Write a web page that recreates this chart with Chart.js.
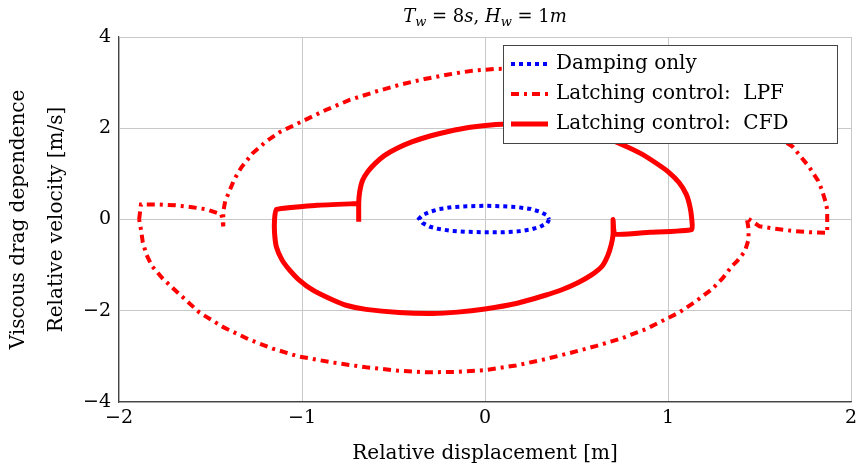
<!DOCTYPE html>
<html>
<head>
<meta charset="utf-8">
<script src="https://cdn.jsdelivr.net/npm/chart.js@4/dist/chart.umd.min.js"></script>
<style>
  html, body { margin: 0; padding: 0; background: #fff; }
  #wrap { width: 857px; height: 470px; }
</style>
</head>
<body>
<div id="wrap"><canvas id="phase_chart"></canvas></div>
<script>
// tick labels
const xTicks = [-2, -1, 0, 1, 2];
const yTicks = [-4, -2, 0, 2, 4];

// Damping only (blue dotted loop)
const dampX = [0.35, 0.34, 0.3, 0.25, 0.18, 0.1, 0.0, -0.1, -0.18, -0.25, -0.3, -0.34, -0.36, -0.34, -0.3, -0.25, -0.18, -0.1, 0.0, 0.1, 0.18, 0.25, 0.3, 0.34, 0.35];
const dampY = [0.0, -0.08, -0.16, -0.22, -0.26, -0.28, -0.28, -0.27, -0.25, -0.21, -0.16, -0.08, 0.02, 0.1, 0.17, 0.23, 0.27, 0.29, 0.3, 0.29, 0.27, 0.23, 0.17, 0.09, 0.0];

// Latching control: LPF (red dash-dot)
const lpfX = [-1.89, -1.88, -1.78, -1.69, -1.6, -1.52, -1.44, -1.43, -1.43, -1.42, -1.4, -1.37, -1.33, -1.27, -1.2, -1.12, -1.0, -0.87, -0.74, -0.6, -0.47, -0.33, -0.2, -0.07, 0.06, 0.25, 0.45, 0.65, 0.85, 1.05, 1.25, 1.42, 1.56, 1.68, 1.77, 1.82, 1.84, 1.86, 1.87, 1.87, 1.78, 1.68, 1.58, 1.5, 1.43, 1.44, 1.44, 1.42, 1.38, 1.35, 1.3, 1.24, 1.15, 1.06, 0.97, 0.88, 0.75, 0.61, 0.47, 0.33, 0.17, 0.0, -0.16, -0.32, -0.48, -0.65, -0.84, -1.02, -1.16, -1.29, -1.43, -1.56, -1.68, -1.76, -1.82, -1.85, -1.87, -1.88, -1.89];
const lpfY = [0.0, 0.33, 0.33, 0.31, 0.27, 0.22, 0.11, -0.15, 0.17, 0.4, 0.59, 0.88, 1.15, 1.45, 1.7, 1.92, 2.15, 2.4, 2.62, 2.8, 2.95, 3.08, 3.18, 3.26, 3.3, 3.31, 3.26, 3.16, 3.0, 2.78, 2.5, 2.2, 1.9, 1.6, 1.16, 0.85, 0.66, 0.4, 0.22, -0.29, -0.28, -0.25, -0.2, -0.15, 0.04, -0.2, -0.44, -0.7, -0.9, -1.02, -1.28, -1.53, -1.8, -2.04, -2.22, -2.4, -2.6, -2.77, -2.92, -3.06, -3.2, -3.3, -3.34, -3.35, -3.31, -3.24, -3.13, -3.0, -2.83, -2.63, -2.36, -2.04, -1.6, -1.3, -1.02, -0.77, -0.5, -0.22, 0.0];

// Latching control: CFD (red solid)
const cfdX = [-0.69, -0.69, -0.685, -0.67, -0.64, -0.6, -0.55, -0.48, -0.4, -0.3, -0.2, -0.08, 0.06, 0.2, 0.35, 0.5, 0.63, 0.75, 0.85, 0.93, 1.0, 1.06, 1.1, 1.12, 1.13, 1.13, 0.9, 0.71, 0.7, 0.7, 0.69, 0.67, 0.64, 0.58, 0.51, 0.42, 0.33, 0.17, 0.0, -0.15, -0.29, -0.47, -0.65, -0.76, -0.84, -0.94, -1.02, -1.07, -1.11, -1.14, -1.15, -1.15, -1.14, -0.92, -0.69];
const cfdY = [-0.05, 0.37, 0.6, 0.85, 1.05, 1.23, 1.4, 1.56, 1.7, 1.83, 1.93, 2.02, 2.08, 2.1, 2.07, 1.98, 1.83, 1.64, 1.45, 1.25, 1.05, 0.81, 0.55, 0.28, 0.0, -0.22, -0.28, -0.32, 0.0, -0.32, -0.55, -0.8, -1.02, -1.22, -1.38, -1.54, -1.66, -1.84, -1.96, -2.03, -2.06, -2.04, -1.97, -1.88, -1.75, -1.55, -1.31, -1.1, -0.88, -0.6, -0.29, 0.0, 0.22, 0.31, 0.35];

const toPoints = (xs, ys) => xs.map((x, i) => ({ x: x, y: ys[i] }));
const serif = "'DejaVu Serif', 'Liberation Serif', serif";
const fmt = v => (v < 0 ? "\u2212" + Math.abs(v) : String(v));

// title with subscripts: T_w = 8s, H_w = 1m
const titlePlugin = {
  id: "mathTitle",
  afterDraw(chart) {
    const ctx = chart.ctx;
    const parts = [
      { t: "T", s: "italic" }, { t: "w", s: "italic", sub: true }, { t: " = 8", s: "" }, { t: "s", s: "italic" },
      { t: ", ", s: "" }, { t: "H", s: "italic" }, { t: "w", s: "italic", sub: true }, { t: " = 1", s: "" }, { t: "m", s: "italic" },
    ];
    ctx.save();
    ctx.fillStyle = "#000";
    ctx.textBaseline = "alphabetic";
    const fontOf = p => (p.s ? p.s + " " : "") + (p.sub ? "13px " : "18px ") + serif;
    let total = 0;
    parts.forEach(p => { ctx.font = fontOf(p); total += ctx.measureText(p.t).width; });
    let x = (chart.chartArea.left + chart.chartArea.right) / 2 - total / 2;
    parts.forEach(p => {
      ctx.font = fontOf(p);
      ctx.fillText(p.t, x, p.sub ? 26 : 22);
      x += ctx.measureText(p.t).width;
    });
    ctx.restore();
  },
};

// legend box drawn inside the plot, over the curves
const boxLegend = {
  id: "boxLegend",
  afterDatasetsDraw(chart) {
    const ctx = chart.ctx;
    const x0 = 503, y0 = 45, w = 334, h = 98;
    ctx.save();
    ctx.fillStyle = "#fff";
    ctx.fillRect(x0, y0, w, h);
    ctx.strokeStyle = "#444";
    ctx.lineWidth = 1;
    ctx.strokeRect(x0 + 0.5, y0 + 0.5, w, h);
    chart.data.datasets.forEach((ds, i) => {
      const y = y0 + 19 + i * 30;
      ctx.strokeStyle = ds.borderColor;
      ctx.lineWidth = ds.borderWidth;
      ctx.setLineDash(ds.borderDash || []);
      ctx.beginPath();
      ctx.moveTo(x0 + 8, y);
      ctx.lineTo(x0 + 45, y);
      ctx.stroke();
      ctx.setLineDash([]);
      ctx.fillStyle = "#000";
      ctx.font = "20px " + serif;
      ctx.textBaseline = "middle";
      ctx.fillText(ds.label, x0 + 53, y);
    });
    ctx.restore();
  },
};

new Chart(document.getElementById("phase_chart"), {
  type: "scatter",
  data: {
    datasets: [
      {
        label: "Damping only",
        data: toPoints(dampX, dampY),
        showLine: true,
        borderColor: "#0000ff",
        borderWidth: 4,
        borderDash: [4, 4],
        pointRadius: 0,
        tension: 0,
      },
      {
        label: "Latching control:  LPF",
        data: toPoints(lpfX, lpfY),
        showLine: true,
        borderColor: "#ff0000",
        borderWidth: 4,
        borderDash: [8, 5, 3, 5],
        pointRadius: 0,
        tension: 0,
      },
      {
        label: "Latching control:  CFD",
        data: toPoints(cfdX, cfdY),
        showLine: true,
        borderColor: "#ff0000",
        borderWidth: 5,
        pointRadius: 0,
        tension: 0.15,
      },
    ],
  },
  options: {
    responsive: true,
    maintainAspectRatio: false,
    animation: false,
    layout: { padding: { top: 37, right: 6, left: 0, bottom: 0 } },
    plugins: {
      legend: { display: false },
      tooltip: { enabled: false },
    },
    scales: {
      x: {
        type: "linear",
        min: -2,
        max: 2,
        afterBuildTicks: s => { s.ticks = xTicks.map(v => ({ value: v })); },
        afterFit: s => { s.height = 68; s.paddingLeft = 0; s.paddingRight = 0; },
        ticks: { color: "#000", font: { family: serif, size: 19 }, padding: 5, callback: fmt },
        grid: { color: "#c8c8c8", drawTicks: false },
        border: { color: "#444", width: 1.2 },
        title: { display: true, text: "Relative displacement [m]", color: "#000", font: { family: serif, size: 20 }, padding: { top: 2 } },
      },
      y: {
        type: "linear",
        min: -4,
        max: 4,
        afterBuildTicks: s => { s.ticks = yTicks.map(v => ({ value: v })); },
        afterFit: s => { s.width = 119; s.paddingTop = 0; s.paddingBottom = 0; },
        ticks: { color: "#000", font: { family: serif, size: 19 }, padding: 8, callback: fmt },
        grid: { color: "#c8c8c8", drawTicks: false },
        border: { color: "#444", width: 1.2 },
        title: {
          display: true,
          text: ["Viscous drag dependence", "Relative velocity [m/s]"],
          color: "#000",
          font: { family: serif, size: 20, lineHeight: 1.9 },
          padding: { top: 0, bottom: 0 },
        },
      },
    },
  },
  plugins: [titlePlugin, boxLegend],
});
</script>
</body>
</html>
